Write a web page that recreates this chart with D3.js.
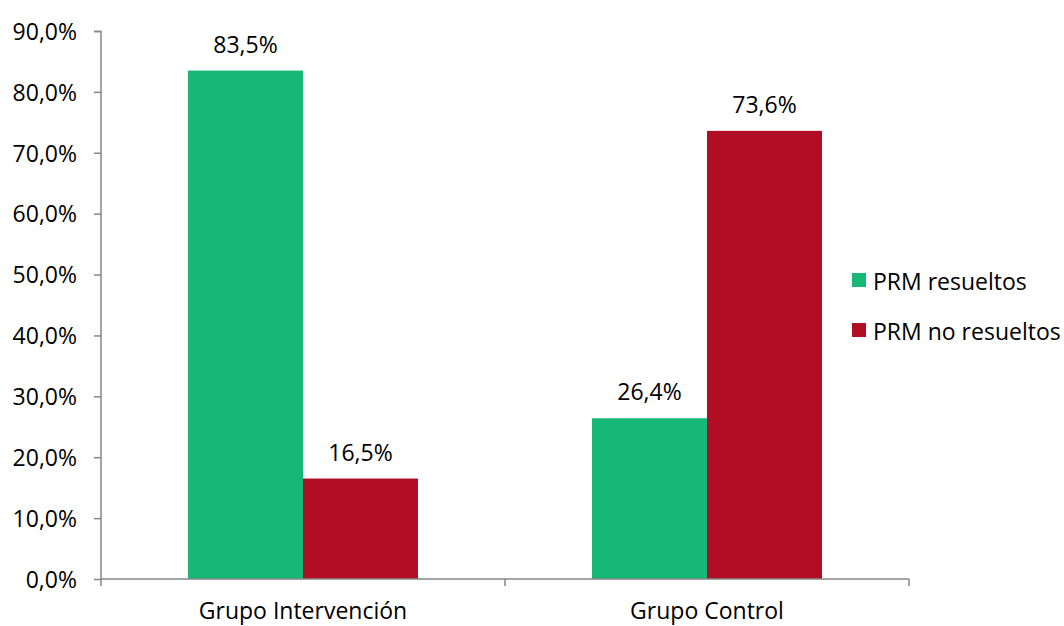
<!DOCTYPE html>
<html>
<head>
<meta charset="utf-8">
<script src="https://cdn.jsdelivr.net/npm/d3@7"></script>
<style>
  body { margin: 0; background: #fff; }
  svg text { font-family: "Open Sans", sans-serif; fill: #000; }
</style>
</head>
<body>
<svg width="1064" height="626"></svg>
<script>
const groups = ['Grupo Intervención', 'Grupo Control'];
const seriesNames = ['PRM resueltos', 'PRM no resueltos'];
const resueltos = [83.5, 26.4];
const noResueltos = [16.5, 73.6];
const yTicks = [0, 10, 20, 30, 40, 50, 60, 70, 80, 90];
const colors = ['#17b777', '#b10e26'];
const fontSize = '23px';

const svg = d3.select('svg');
const margin = { left: 101, right: 155, top: 31, bottom: 47 };
const W = 1064 - margin.left - margin.right;
const H = 626 - margin.top - margin.bottom;

const chart = svg.append('g').attr('transform', `translate(${margin.left},${margin.top})`);

const x0 = d3.scaleBand().domain(groups).range([0, W]);
const x1 = d3.scaleBand().domain(seriesNames).range([87, x0.bandwidth() - 87]);
const y = d3.scaleLinear().domain([0, 90]).range([H, 0]);

const fmt = v => d3.format('.1f')(v).replace('.', ',') + '%';

const rows = groups.map((g, i) => ({ group: g, values: [resueltos[i], noResueltos[i]] }));

const gGroups = chart.selectAll('.grp')
  .data(rows)
  .enter()
  .append('g')
  .attr('transform', d => `translate(${x0(d.group)},0)`);

gGroups.selectAll('rect')
  .data(d => d.values.map((v, j) => ({ s: seriesNames[j], v: v, j: j })))
  .enter()
  .append('rect')
  .attr('x', d => x1(d.s))
  .attr('width', x1.bandwidth())
  .attr('y', d => y(d.v))
  .attr('height', d => H - y(d.v))
  .attr('fill', d => colors[d.j]);

gGroups.selectAll('.label')
  .data(d => d.values.map((v, j) => ({ s: seriesNames[j], v: v })))
  .enter()
  .append('text')
  .attr('x', d => x1(d.s) + x1.bandwidth() / 2)
  .attr('y', d => y(d.v) - 18)
  .attr('text-anchor', 'middle')
  .style('font-size', fontSize)
  .text(d => fmt(d.v));

// Y axis
const yAxis = chart.append('g')
  .call(d3.axisLeft(y).tickValues(yTicks).tickSize(7).tickPadding(17).tickFormat(fmt));
yAxis.selectAll('text').style('font-size', fontSize).attr('dy', '0.36em');
yAxis.selectAll('line, path').attr('stroke', '#868686').attr('stroke-width', 1.5);
yAxis.select('.domain').attr('d', `M-7,0.5H0V${H}`);

// X axis
const xAxis = chart.append('g')
  .attr('transform', `translate(0,${H})`)
  .call(d3.axisBottom(x0).tickSize(0).tickPadding(24));
xAxis.selectAll('text').style('font-size', fontSize);
xAxis.select('.domain').attr('stroke', '#868686').attr('stroke-width', 1.5).attr('d', `M0,0H${W}`);
xAxis.selectAll('.sep')
  .data([0, W / 2, W])
  .enter()
  .append('line')
  .attr('x1', d => d).attr('x2', d => d)
  .attr('y1', 0).attr('y2', 7)
  .attr('stroke', '#868686').attr('stroke-width', 1.5);

// Legend
const legend = svg.append('g').attr('transform', 'translate(852,273)');
const items = legend.selectAll('g')
  .data(seriesNames)
  .enter()
  .append('g')
  .attr('transform', (d, i) => `translate(0,${i * 50})`);
items.append('rect').attr('width', 14).attr('height', 14).attr('fill', (d, i) => colors[i]);
items.append('text').attr('x', 21).attr('y', 9).attr('dy', '0.36em')
  .style('font-size', fontSize).text(d => d);
</script>
</body>
</html>
